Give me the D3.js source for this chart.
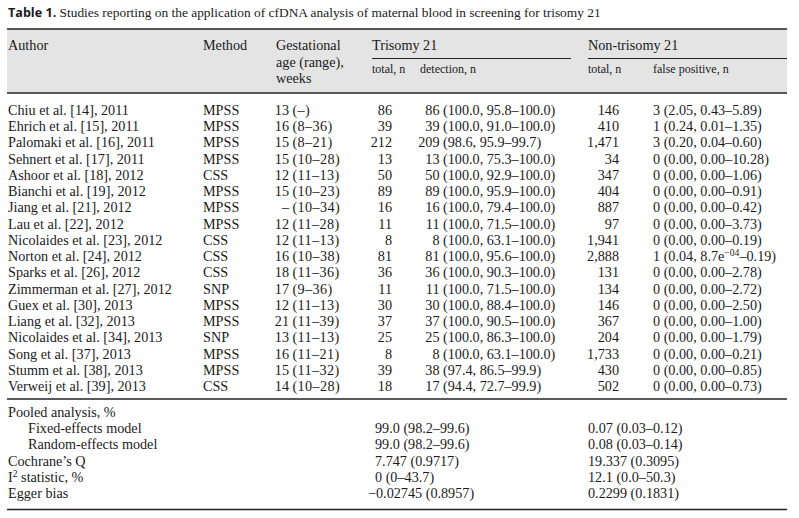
<!DOCTYPE html>
<html>
<head>
<meta charset="utf-8">
<script src="https://cdn.jsdelivr.net/npm/d3@7"></script>
<style>
  html, body { margin: 0; padding: 0; background: #fff; }
  svg text { font-family: "Liberation Serif", "Times New Roman", serif; fill: #1a1a1a; }
</style>
</head>
<body>
<svg id="chart" width="799" height="518"></svg>
<script>
// ---------- DATA ----------
const titleBold = "Table 1.";
const titleText = " Studies reporting on the application of cfDNA analysis of maternal blood in screening for trisomy 21";

const authors = ["Chiu et al. [14], 2011","Ehrich et al. [15], 2011","Palomaki et al. [16], 2011","Sehnert et al. [17], 2011",
  "Ashoor et al. [18], 2012","Bianchi et al. [19], 2012","Jiang et al. [21], 2012","Lau et al. [22], 2012",
  "Nicolaides et al. [23], 2012","Norton et al. [24], 2012","Sparks et al. [26], 2012","Zimmerman et al. [27], 2012",
  "Guex et al. [30], 2013","Liang et al. [32], 2013","Nicolaides et al. [34], 2013","Song et al. [37], 2013",
  "Stumm et al. [38], 2013","Verweij et al. [39], 2013"];
const methods = ["MPSS","MPSS","MPSS","MPSS","CSS","MPSS","MPSS","MPSS","CSS","CSS","CSS","SNP","MPSS","MPSS","SNP","MPSS","MPSS","CSS"];
const gaMedian = ["13","16","15","15","12","15","–","12","12","16","18","17","12","21","13","16","15","14"];
const gaRange = ["(–)","(8–36)","(8–21)","(10–28)","(11–13)","(10–23)","(10–34)","(11–28)","(11–13)","(10–38)","(11–36)","(9–36)","(11–13)","(11–39)","(11–13)","(11–21)","(11–32)","(10–28)"];
const t21Total = ["86","39","212","13","50","89","16","11","8","81","36","11","30","37","25","8","39","18"];
const t21Detected = ["86","39","209","13","50","89","16","11","8","81","36","11","30","37","25","8","38","17"];
const t21DetCI = ["(100.0, 95.8–100.0)","(100.0, 91.0–100.0)","(98.6, 95.9–99.7)","(100.0, 75.3–100.0)","(100.0, 92.9–100.0)",
  "(100.0, 95.9–100.0)","(100.0, 79.4–100.0)","(100.0, 71.5–100.0)","(100.0, 63.1–100.0)","(100.0, 95.6–100.0)",
  "(100.0, 90.3–100.0)","(100.0, 71.5–100.0)","(100.0, 88.4–100.0)","(100.0, 90.5–100.0)","(100.0, 86.3–100.0)",
  "(100.0, 63.1–100.0)","(97.4, 86.5–99.9)","(94.4, 72.7–99.9)"];
const nonTotal = ["146","410","1,471","34","347","404","887","97","1,941","2,888","131","134","146","367","204","1,733","430","502"];
const falsePos = ["3 (2.05, 0.43–5.89)","1 (0.24, 0.01–1.35)","3 (0.20, 0.04–0.60)","0 (0.00, 0.00–10.28)","0 (0.00, 0.00–1.06)",
  "0 (0.00, 0.00–0.91)","0 (0.00, 0.00–0.42)","0 (0.00, 0.00–3.73)","0 (0.00, 0.00–0.19)","1 (0.04, 8.7e^−04^–0.19)",
  "0 (0.00, 0.00–2.78)","0 (0.00, 0.00–2.72)","0 (0.00, 0.00–2.50)","0 (0.00, 0.00–1.00)","0 (0.00, 0.00–1.79)",
  "0 (0.00, 0.00–0.21)","0 (0.00, 0.00–0.85)","0 (0.00, 0.00–0.73)"];

const pooledLabels = ["Pooled analysis, %","Fixed-effects model","Random-effects model","Cochrane’s Q","I^2^ statistic, %","Egger bias"];
const pooledIndent = [0,1,1,0,0,0];
const pooledT21 = ["","99.0 (98.2–99.6)","99.0 (98.2–99.6)","7.747 (0.9717)","0 (0–43.7)","−0.02745 (0.8957)"];
const pooledNon = ["","0.07 (0.03–0.12)","0.08 (0.03–0.14)","19.337 (0.3095)","12.1 (0.0–50.3)","0.2299 (0.1831)"];

// ---------- DRAW ----------
const svg = d3.select("#chart");
svg.append("rect").attr("width",799).attr("height",518).attr("fill","#fff");

const FS = 14.2;
const left = 7, right = 787;

// helper: text with ^sup^ segments
function richText(sel, str, size) {
  const parts = str.split("^");
  parts.forEach((p, i) => {
    if (!p) return;
    const t = sel.append("tspan").text(p);
    if (i % 2 === 1) {
      t.attr("baseline-shift", "super").attr("font-size", size * 0.68);
    }
  });
}

// Title
const title = svg.append("text").attr("x", 8).attr("y", 17).attr("font-size", 13.4);
title.append("tspan").text(titleBold)
  .attr("font-family", "'Open Sans', 'DejaVu Sans', sans-serif").attr("font-weight", "bold").attr("font-size", 12.6);
title.append("tspan").text(titleText);

// Header
svg.append("rect").attr("x", left).attr("y", 29).attr("width", right - left).attr("height", 64).attr("fill", "#e4e4e4");
svg.append("line").attr("x1", left).attr("x2", right).attr("y1", 29).attr("y2", 29).attr("stroke", "#222").attr("stroke-width", 1.4);
svg.append("line").attr("x1", left).attr("x2", right).attr("y1", 93).attr("y2", 93).attr("stroke", "#222").attr("stroke-width", 1.4);
svg.append("line").attr("x1", 372).attr("x2", 571).attr("y1", 58.5).attr("y2", 58.5).attr("stroke", "#222").attr("stroke-width", 1.2);
svg.append("line").attr("x1", 588).attr("x2", right).attr("y1", 58.5).attr("y2", 58.5).attr("stroke", "#222").attr("stroke-width", 1.2);

const headers = [
  {x: 8, lines: ["Author"]},
  {x: 203, lines: ["Method"]},
  {x: 276, lines: ["Gestational", "age (range),", "weeks"]},
  {x: 372, lines: ["Trisomy 21"]},
  {x: 588, lines: ["Non-trisomy 21"]}
];
headers.forEach(h => {
  h.lines.forEach((l, i) => {
    svg.append("text").attr("x", h.x).attr("y", 50 + i * 16.5).attr("font-size", FS).text(l);
  });
});
const subHeaders = [{x: 372, t: "total, n"}, {x: 420, t: "detection, n"}, {x: 588, t: "total, n"}, {x: 653, t: "false positive, n"}];
subHeaders.forEach(s => svg.append("text").attr("x", s.x).attr("y", 72.5).attr("font-size", 12).text(s.t));

// Rows
const y = d3.scalePoint().domain(d3.range(authors.length)).range([115, 391]);
const rows = svg.append("g").selectAll("g").data(authors).join("g")
  .attr("transform", (d, i) => `translate(0,${y(i)})`);
rows.append("text").attr("x", 8).attr("font-size", FS).text(d => d);
rows.append("text").attr("x", 203).attr("font-size", FS).text((d, i) => methods[i]);
rows.append("text").attr("x", 289).attr("text-anchor", "end").attr("font-size", FS).text((d, i) => gaMedian[i]);
rows.append("text").attr("x", 292.5).attr("font-size", FS).attr("letter-spacing", 0.4).text((d, i) => gaRange[i]);
rows.append("text").attr("x", 392).attr("text-anchor", "end").attr("font-size", FS).text((d, i) => t21Total[i]);
rows.append("text").attr("x", 439.5).attr("text-anchor", "end").attr("font-size", FS).text((d, i) => t21Detected[i]);
rows.append("text").attr("x", 443).attr("font-size", FS).text((d, i) => t21DetCI[i]);
rows.append("text").attr("x", 619).attr("text-anchor", "end").attr("font-size", FS).text((d, i) => nonTotal[i]);
rows.append("text").attr("x", 653).attr("font-size", FS).each(function(d, i) { richText(d3.select(this), falsePos[i], FS); });

svg.append("line").attr("x1", left).attr("x2", right).attr("y1", 399).attr("y2", 399).attr("stroke", "#222").attr("stroke-width", 1.4);

// Pooled section
const yp = d3.scalePoint().domain(d3.range(pooledLabels.length)).range([417, 498]);
const prow = svg.append("g").selectAll("g").data(pooledLabels).join("g")
  .attr("transform", (d, i) => `translate(0,${yp(i)})`);
prow.append("text").attr("x", (d, i) => 8 + pooledIndent[i] * 20).attr("font-size", FS)
  .each(function(d) { richText(d3.select(this), d, FS); });
prow.append("text").attr("x", (d, i) => pooledT21[i].startsWith("−") ? 368 : 375).attr("font-size", FS).text((d, i) => pooledT21[i]);
prow.append("text").attr("x", 588).attr("font-size", FS).text((d, i) => pooledNon[i]);

svg.append("line").attr("x1", left).attr("x2", right).attr("y1", 509.5).attr("y2", 509.5).attr("stroke", "#222").attr("stroke-width", 1.4);
</script>
</body>
</html>
